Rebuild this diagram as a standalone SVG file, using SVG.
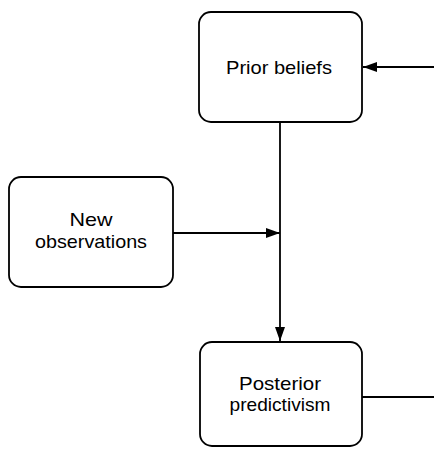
<svg xmlns="http://www.w3.org/2000/svg" width="434" height="449" viewBox="0 0 434 449">
<style>
.box{fill:#fff;stroke:#000;stroke-width:1.8}
.lbl{font-family:"Liberation Sans",Arial,sans-serif;font-size:19px;fill:#000;text-anchor:middle}
.edge{fill:none;stroke:#000;stroke-width:1.8}
</style>
<defs>
<marker id="ah" markerWidth="14" markerHeight="10" refX="14" refY="5" orient="auto" markerUnits="userSpaceOnUse">
<path d="M0,0 L14,5 L0,10 Z" fill="#000"/>
</marker>
</defs>
<rect width="434" height="449" fill="#fff"/>
<g id="connectors">
<line class="edge" x1="434" y1="67" x2="363" y2="67" marker-end="url(#ah)"/>
<line class="edge" x1="280" y1="122" x2="280" y2="341" marker-end="url(#ah)"/>
<line class="edge" x1="173" y1="233" x2="280" y2="233" marker-end="url(#ah)"/>
<line class="edge" x1="362" y1="397" x2="434" y2="397"/>
</g>
<g id="prior">
<rect class="box" x="199" y="12" width="163" height="110" rx="12"/>
<text class="lbl" x="279" y="74" textLength="106" lengthAdjust="spacingAndGlyphs">Prior beliefs</text>
</g>
<g id="newobs">
<rect class="box" x="9" y="177" width="164" height="110" rx="12"/>
<text class="lbl" x="91" y="226" textLength="43" lengthAdjust="spacingAndGlyphs">New</text>
<text class="lbl" x="91" y="248" textLength="112" lengthAdjust="spacingAndGlyphs">observations</text>
</g>
<g id="posterior">
<rect class="box" x="200" y="342" width="162" height="104" rx="12"/>
<text class="lbl" x="280" y="390" textLength="82" lengthAdjust="spacingAndGlyphs">Posterior</text>
<text class="lbl" x="280" y="411" textLength="101" lengthAdjust="spacingAndGlyphs">predictivism</text>
</g>
</svg>
